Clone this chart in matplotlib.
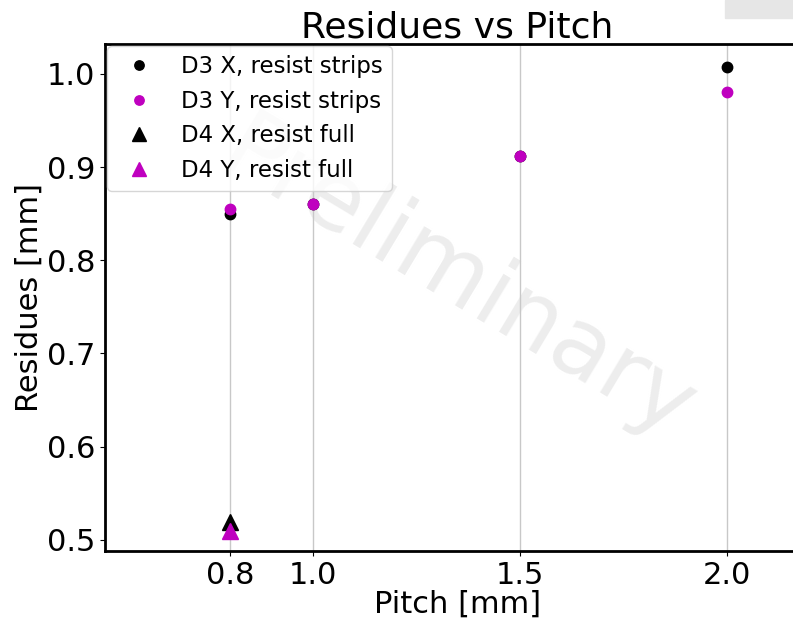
""" Residues vs pitch """

import matplotlib
matplotlib.use("Agg")
import matplotlib.pyplot as plt
from matplotlib.patches import Rectangle

# Pitch values [mm]
pitch_d3 = [0.8, 1.0, 1.5, 2.0]
pitch_d4 = [0.8]

# Residues [mm]
d3_x = [0.850, 0.860, 0.912, 1.007]
d3_y = [0.855, 0.860, 0.912, 0.981]
d4_x = [0.519]
d4_y = [0.509]

x_ticks = [0.8, 1.0, 1.5, 2.0]


def main():
    """ Main function """

    fig = plt.figure(figsize=(7.93, 6.2), dpi=100)
    ax = fig.add_axes([105 / 793, 1 - 551 / 620, 705 / 793, 507 / 620])

    ax.plot(pitch_d3, d3_x, "o", color="black", markersize=7.5, label="D3 X, resist strips")
    ax.plot(pitch_d3, d3_y, "o", color="m", markersize=7.5, label="D3 Y, resist strips")
    ax.plot(pitch_d4, d4_x, "^", color="black", markersize=11, label="D4 X, resist full")
    ax.plot(pitch_d4, d4_y, "^", color="m", markersize=11, label="D4 Y, resist full")

    ax.set_xlim(0.498, 2.2)
    ax.set_ylim(0.488, 1.032)
    ax.set_xticks(x_ticks)
    ax.set_xticklabels([f"{t:.1f}" for t in x_ticks])
    ax.grid(axis="x", color="#c8c8c8", linewidth=1)
    ax.set_axisbelow(True)
    ax.tick_params(labelsize=22)
    for s in ax.spines.values():
        s.set_linewidth(2)

    ax.set_title("Residues vs Pitch", fontsize=26, pad=4)
    ax.set_xlabel("Pitch [mm]", fontsize=22, labelpad=0)
    ax.set_ylabel("Residues [mm]", fontsize=22, labelpad=2)

    # Watermark
    ax.text(0.50, 0.53, "Preliminary", transform=ax.transAxes, fontsize=68,
            color="#ededed", rotation=-31, ha="center", va="center", zorder=0)

    ax.legend(loc="upper left", fontsize=16.5, borderaxespad=0.1, handletextpad=0.8,
              labelspacing=0.5, markerscale=0.9, framealpha=0.8)

    fig.patches.append(Rectangle((725 / 793, 1 - 18 / 620), 70 / 793, 18 / 620,
                                 transform=fig.transFigure, color="#e6e6e6"))

    fig.savefig("out.png", dpi=100)


if __name__ == "__main__":
    main()
